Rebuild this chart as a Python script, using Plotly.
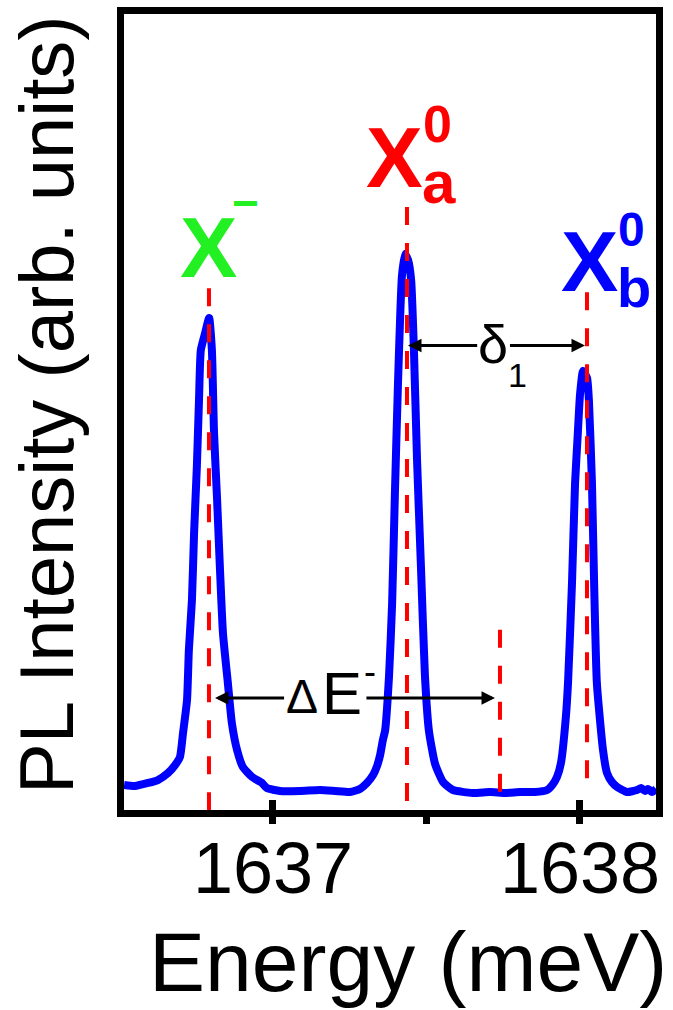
import plotly.graph_objects as go

# ---------------- data ----------------
energy = [
    1636.515, 1636.550, 1636.593, 1636.625, 1636.658, 1636.681, 1636.697, 1636.707,
    1636.720, 1636.726, 1636.736, 1636.743, 1636.752, 1636.759, 1636.765, 1636.779,
    1636.792, 1636.801, 1636.808, 1636.818, 1636.827, 1636.837, 1636.853, 1636.866,
    1636.883, 1636.902, 1636.932, 1636.964, 1636.980, 1637.023, 1637.088, 1637.153,
    1637.202, 1637.251, 1637.283, 1637.306, 1637.326, 1637.339, 1637.349, 1637.358,
    1637.365, 1637.378, 1637.388, 1637.397, 1637.407, 1637.420, 1637.430, 1637.440,
    1637.450, 1637.459, 1637.469, 1637.482, 1637.495, 1637.508, 1637.528, 1637.554,
    1637.586, 1637.651, 1637.707, 1637.756, 1637.805, 1637.853, 1637.893, 1637.912,
    1637.925, 1637.938, 1637.954, 1637.961, 1637.974, 1637.984, 1637.993, 1638.000,
    1638.010, 1638.023, 1638.029, 1638.039, 1638.046, 1638.055, 1638.075, 1638.088,
    1638.104, 1638.121, 1638.153, 1638.186, 1638.199, 1638.212, 1638.221, 1638.235,
    1638.248,
]
intensity = [
    0.0326, 0.0313, 0.0351, 0.0388, 0.0476, 0.0576, 0.0677, 0.0977,
    0.1391, 0.2018, 0.2644, 0.3484, 0.4311, 0.5150, 0.5777, 0.5990,
    0.6178, 0.5777, 0.4737, 0.3897, 0.3058, 0.2231, 0.1604, 0.1103,
    0.0764, 0.0551, 0.0426, 0.0351, 0.0288, 0.0251, 0.0251, 0.0263,
    0.0251, 0.0238, 0.0276, 0.0351, 0.0451, 0.0564, 0.0702, 0.0890,
    0.1003, 0.1692, 0.2594, 0.3960, 0.5338, 0.6704, 0.6980, 0.6905,
    0.6654, 0.5789, 0.4424, 0.3058, 0.1692, 0.1003, 0.0589, 0.0363,
    0.0263, 0.0226, 0.0238, 0.0226, 0.0238, 0.0238, 0.0263, 0.0338,
    0.0426, 0.0602, 0.1178, 0.1604, 0.2857, 0.4110, 0.4737, 0.5213,
    0.5514, 0.5426, 0.5150, 0.4110, 0.2857, 0.1604, 0.0764, 0.0476,
    0.0363, 0.0301, 0.0238, 0.0263, 0.0288, 0.0251, 0.0276, 0.0238,
    0.0276,
]

# vertical dashed marker lines: X-, Xa0, Xb0, reference position
marker_energy = [1636.7915, 1637.4365, 1638.0228, 1637.7394]
marker_top = [0.655, 0.757, 0.650, 0.227]
marker_bottom = [0.0, 0.005, 0.020, 0.016]
# x-axis id each marker line is drawn on (all share the same range)
marker_axis = ["x", "x", "x", "x2"]

x_tick_vals = [1637, 1638]
x_tick_text = ["1637", "1638"]
x_outer_tick_vals = [1637, 1637.5, 1638]
x_range = [1636.5147, 1638.2476]
y_range = [0.00125, 0.99875]

FONT = "Liberation Sans, Arial, sans-serif"
BLUE = "#0000ff"
RED = "#ff0000"
GREEN = "#22f022"

fig = go.Figure()

fig.add_trace(go.Scatter(
    x=energy, y=intensity, mode="lines",
    line=dict(color=BLUE, width=8, shape="spline", smoothing=0.5),
    showlegend=False, hoverinfo="skip",
))

for e, top, bot, ax_id in zip(marker_energy, marker_top, marker_bottom, marker_axis):
    fig.add_trace(go.Scatter(
        x=[e, e], y=[top, bot], mode="lines", xaxis=ax_id, yaxis="y",
        line=dict(color=RED, width=4, dash="18px,18px"),
        showlegend=False, hoverinfo="skip",
    ))

annotations = []


def txt(x, y, text, size, color, bold=False, **kw):
    d = dict(x=x, y=y, xref="x", yref="y", text=("<b>%s</b>" % text) if bold else text,
             showarrow=False, xanchor="center", yanchor="middle", borderpad=0,
             font=dict(family=FONT, size=size, color=color))
    d.update(kw)
    annotations.append(d)


def arrow(x_tip, x_tail, y):
    annotations.append(dict(
        x=x_tip, y=y, ax=x_tail, ay=y, xref="x", yref="y", axref="x", ayref="y",
        text="", showarrow=True, arrowhead=2, arrowsize=0.9, arrowwidth=3,
        arrowcolor="black", standoff=0,
    ))


# peak labels
txt(1636.7883, 0.7074, "X", 86, GREEN, bold=True)
txt(1636.9120, 0.7620, "\u2212", 46, GREEN, bold=True)

txt(1637.3958, 0.8189, "X", 85, RED, bold=True)
txt(1637.5358, 0.8615, "0", 52, RED, bold=True)
txt(1637.5407, 0.7870, "a", 60, RED, bold=True)

txt(1638.0309, 0.6892, "X", 86, BLUE, bold=True)
txt(1638.1678, 0.7287, "0", 48, BLUE, bold=True)
txt(1638.1759, 0.6554, "b", 56, BLUE, bold=True)

# delta_1 arrow
arrow(1637.4397, 1637.6700, 0.5833)
arrow(1638.0163, 1637.7670, 0.5833)
txt(1637.7182, 0.5852, "\u03b4", 54, "black")
txt(1637.7964, 0.5464, "1", 34, "black")

# Delta E- arrow
arrow(1636.8111, 1637.0410, 0.1416)
arrow(1637.7231, 1637.2995, 0.1416)
txt(1637.0961, 0.1435, "\u0394", 48, "black")
txt(1637.2264, 0.1472, "E", 60, "black")
txt(1637.3160, 0.1742, "-", 36, "black")

# axis titles
annotations.append(dict(
    x=-0.1447, y=0.5088, xref="paper", yref="paper", text="PL Intensity (arb. units)",
    textangle=-90, showarrow=False, xanchor="center", yanchor="middle", borderpad=0,
    font=dict(family=FONT, size=76, color="black"),
))
annotations.append(dict(
    x=0.5338, y=-0.1910, xref="paper", yref="paper", text="Energy (meV)",
    showarrow=False, xanchor="center", yanchor="middle", borderpad=0,
    font=dict(family=FONT, size=84, color="black"),
))

fig.update_layout(
    width=673, height=1010, autosize=False,
    margin=dict(l=124, r=17, t=14, b=200, pad=0),
    paper_bgcolor="white", plot_bgcolor="white",
    font=dict(family=FONT, color="black"),
    annotations=annotations,
    xaxis=dict(
        range=x_range, showline=True, linewidth=7, linecolor="black", mirror=True,
        ticks="inside", ticklen=10, tickwidth=7, tickcolor="black",
        tickmode="array", tickvals=x_tick_vals, ticktext=x_tick_text,
        tickfont=dict(family=FONT, size=72, color="black"),
        ticklabelstandoff=-10,
        minor=dict(tickmode="array", tickvals=x_outer_tick_vals, ticks="outside",
                   ticklen=7, tickwidth=7, tickcolor="black", showgrid=False),
        showgrid=False, zeroline=False, automargin=False,
    ),
    xaxis2=dict(
        range=x_range, overlaying="x", anchor="y", side="bottom",
        showline=False, ticks="outside", ticklen=10, tickwidth=7, tickcolor="black",
        tickmode="array", tickvals=x_tick_vals, showticklabels=False,
        showgrid=False, zeroline=False,
    ),
    yaxis=dict(
        range=y_range, showline=True, linewidth=7, linecolor="black", mirror=True,
        ticks="", showticklabels=False, showgrid=False, zeroline=False,
        automargin=False,
    ),
)

fig.write_html("out.html")
